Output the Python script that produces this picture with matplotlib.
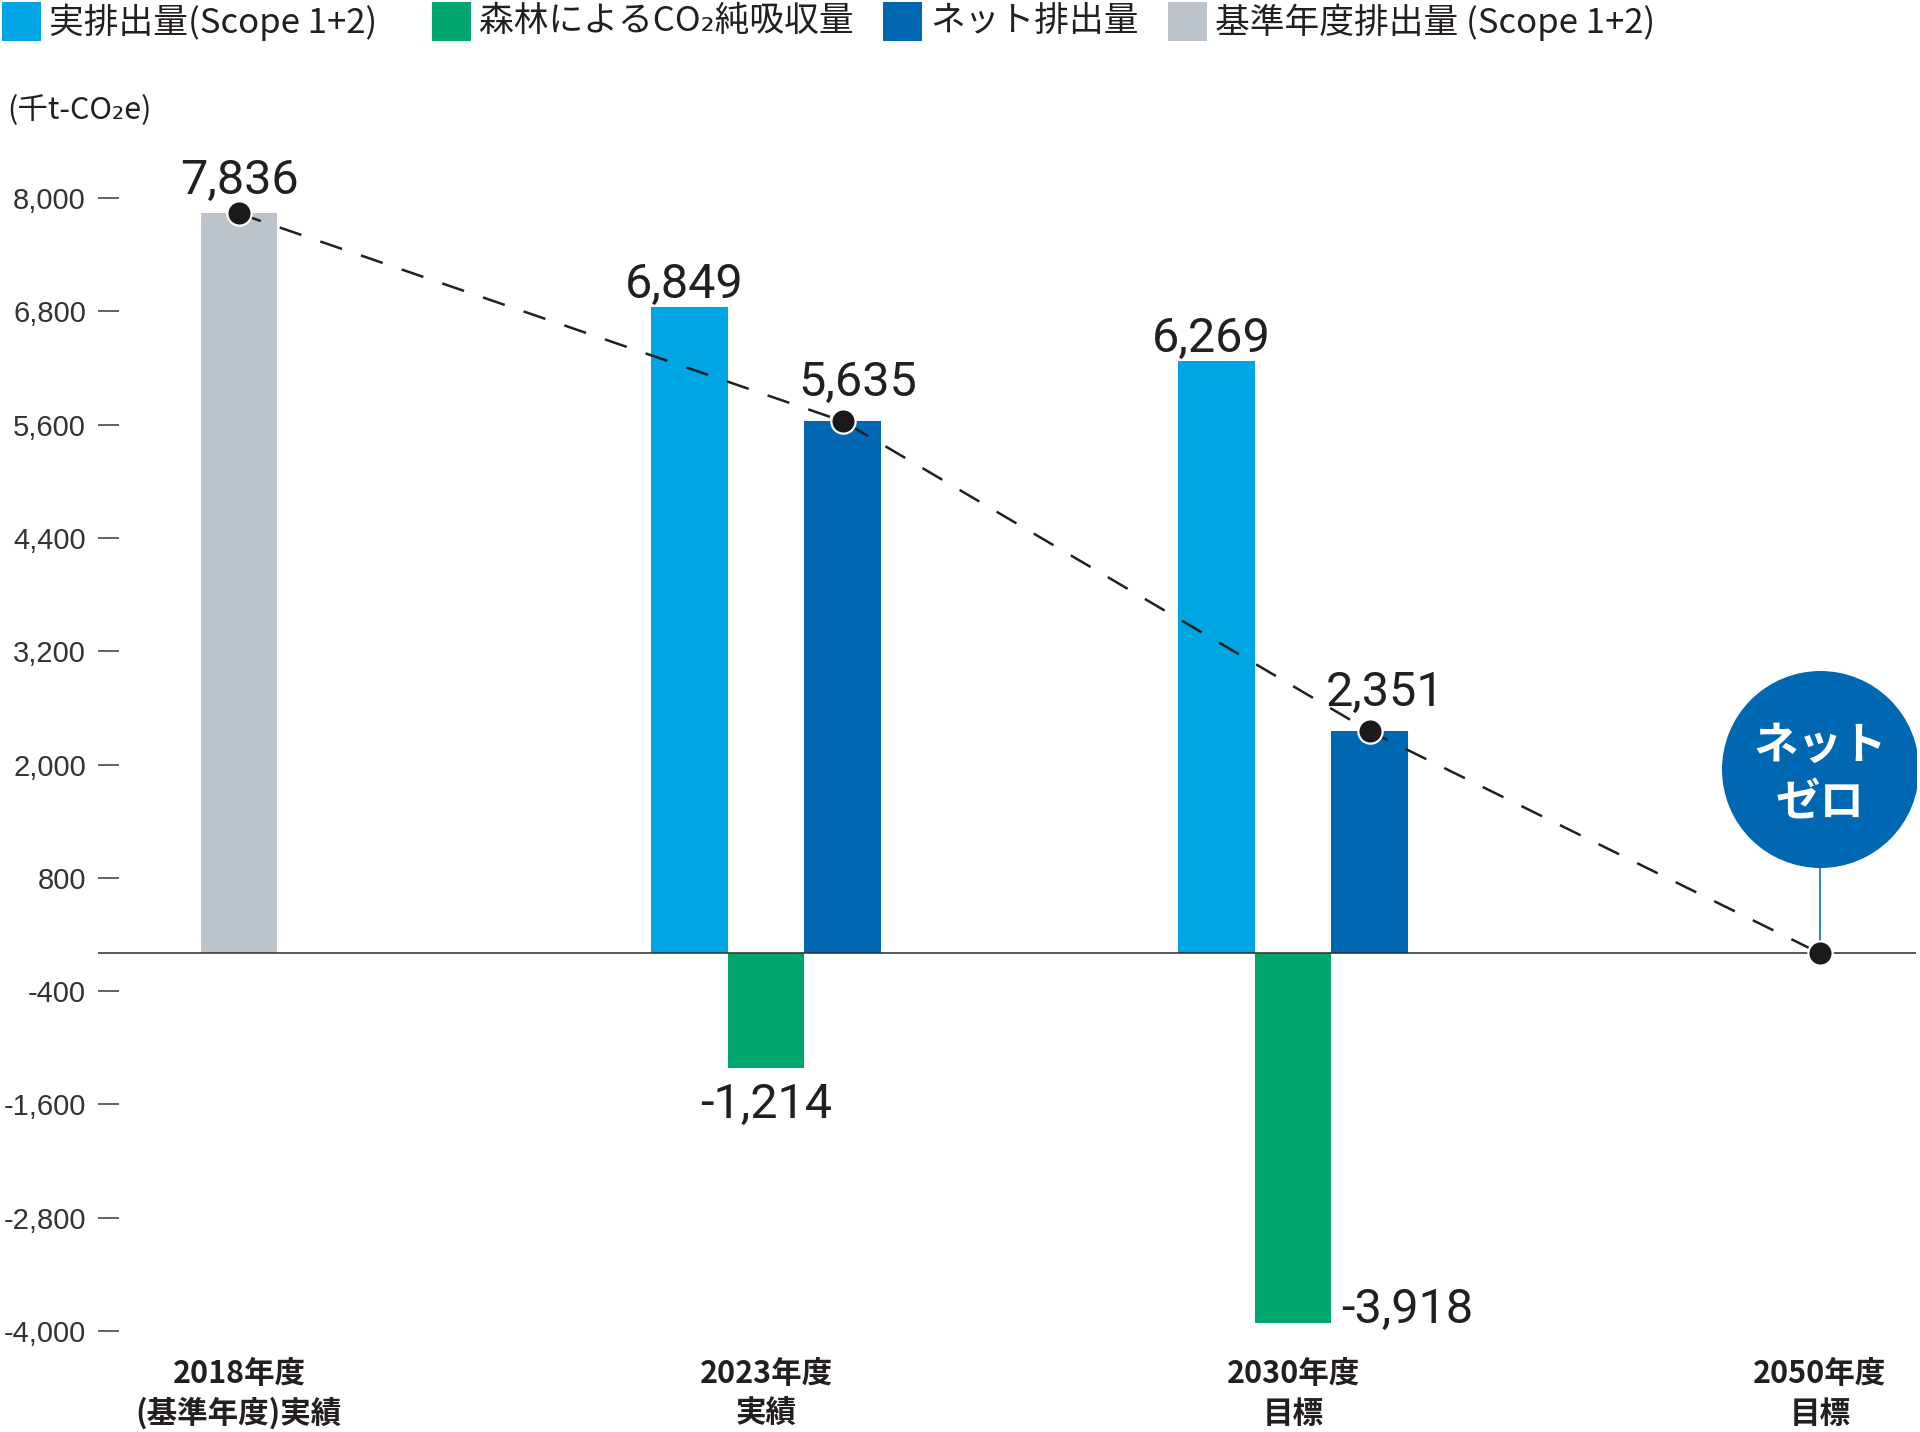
import numpy as np
import matplotlib
matplotlib.use("Agg")
import matplotlib.pyplot as plt
from matplotlib import font_manager as fm
from matplotlib.patches import Rectangle

# ---------------- data ----------------
categories = ["2018年度\n(基準年度)実績", "2023年度\n実績", "2030年度\n目標", "2050年度\n目標"]
base_emission = [7836, np.nan, np.nan, np.nan]      # 基準年度排出量 (Scope 1+2)
actual_emission = [np.nan, 6849, 6269, np.nan]      # 実排出量(Scope 1+2)
forest_absorption = [np.nan, -1214, -3918, np.nan]  # 森林によるCO2純吸収量
net_emission = [np.nan, 5635, 2351, 0]              # ネット排出量 (2050: net zero)
trajectory = [7836, 5635, 2351, 0]
yticks = [8000, 6800, 5600, 4400, 3200, 2000, 800, -400, -1600, -2800, -4000]
legend_labels = ["実排出量(Scope 1+2)", "森林によるCO₂純吸収量", "ネット排出量", "基準年度排出量 (Scope 1+2)"]
unit_label = "(千t-CO₂e)"
badge_label = "ネット\nゼロ"

# ---------------- style ----------------
C_ACTUAL = "#00a5e3"
C_FOREST = "#00a66b"
C_NET = "#0068b3"
C_BASE = "#bcc3ca"
C_TEXT = "#231f20"
legend_colors = [C_ACTUAL, C_FOREST, C_NET, C_BASE]


def has_font(name):
    try:
        fm.findfont(fm.FontProperties(family=name), fallback_to_default=False)
        return True
    except Exception:
        return False


NUM_FONT = "Liberation Sans Narrow" if has_font("Liberation Sans Narrow") else "Roboto"
TICK_FONT = "Liberation Sans" if has_font("Liberation Sans") else "DejaVu Sans"
JP = ["Noto Sans CJK JP", "DejaVu Sans"]

plt.rcParams["font.family"] = JP
plt.rcParams["lines.scale_dashes"] = False

W, H, DPI = 1920, 1432, 100
fig = plt.figure(figsize=(W / DPI, H / DPI), dpi=DPI)
PX = 72.0 / DPI  # points per pixel

ax_left, ax_right, ax_top, ax_bottom = 98, 1916, 140, 1331
ax = fig.add_axes([ax_left / W, 1 - ax_bottom / H, (ax_right - ax_left) / W, (ax_bottom - ax_top) / H])

bw = 0.146
x = np.arange(len(categories))

ax.bar(x, base_emission, width=bw, color=C_BASE, zorder=2)
ax.bar(x - bw, actual_emission, width=bw, color=C_ACTUAL, zorder=2)
ax.bar(x, forest_absorption, width=bw, color=C_FOREST, zorder=2)
net_bars = np.array(net_emission[:3] + [np.nan])
ax.bar(x + bw, net_bars, width=bw, color=C_NET, zorder=2)

# trajectory (dashed) and dots
traj_x = [x[0], x[1] + bw, x[2] + bw, x[3]]
ax.plot(traj_x, trajectory, color=C_TEXT, lw=2.5 * PX, dashes=(23 * PX, 20 * PX), zorder=3)
ax.plot(traj_x, trajectory, linestyle="none", marker="o", ms=17.5, mfc="#1a1a1a", mec="white", mew=1.6, zorder=5)

# zero line
ax.axhline(0, color="#333333", lw=1.6 * PX, zorder=4)

# net zero badge
BADGE_Y = 1950
ax.plot([x[3], x[3]], [0, BADGE_Y], color=C_NET, lw=1.6 * PX, zorder=3)
ax.scatter([x[3]], [BADGE_Y], s=(197 * PX) ** 2, color=C_NET, zorder=6, linewidths=0)
ax.annotate(badge_label, (x[3], BADGE_Y), xytext=(0, -5 * PX), textcoords="offset points",
            ha="center", va="center", color="white", fontsize=32, fontweight="bold",
            linespacing=1.3, zorder=7, family=JP)

# value labels
def lab(xv, yv, text, dx, dy, ha, va):
    ax.annotate(text, (xv, yv), xytext=(dx * PX, dy * PX), textcoords="offset points",
                ha=ha, va=va, fontsize=35, color=C_TEXT, family=[NUM_FONT, "DejaVu Sans"],
                zorder=8, annotation_clip=False)

fmt = lambda v: f"{v:,.0f}"
lab(x[0], base_emission[0], fmt(base_emission[0]), 0, 20, "center", "baseline")
for i in (1, 2):
    lab(x[i] - bw, actual_emission[i], fmt(actual_emission[i]), -5, 9, "center", "baseline")
    lab(x[i] + bw, net_emission[i], fmt(net_emission[i]), 15, 25, "center", "baseline")
lab(x[1], forest_absorption[1], fmt(forest_absorption[1]), 0, -14, "center", "top")
lab(x[2] + bw / 2, forest_absorption[2], fmt(forest_absorption[2]), 10, 0, "left", "baseline")

# axes config
px_per_unit = (1331 - 198) / 12000.0
ymin = -4000
ymax = ymin + (ax_bottom - ax_top) / px_per_unit
ax.set_ylim(ymin, ymax)
xl = (ax_left - 239) / 527.0
xr = (ax_right - 239) / 527.0
ax.set_xlim(xl, xr)

ax.set_yticks(yticks)
ax.set_yticklabels([f"{v:,}" for v in yticks], family=TICK_FONT, fontsize=21, color="#333333")
ax.tick_params(axis="y", direction="in", length=21 * PX, width=1.5 * PX, color="#333333", pad=12 * PX)
ax.set_xticks([])
for s in ax.spines.values():
    s.set_visible(False)
ax.patch.set_alpha(0)

# x category labels
for xi, c in zip(x, categories):
    ax.annotate(c, (xi, ymin), xytext=(0, -(1394 - 1331) * PX), textcoords="offset points",
                ha="center", va="center", fontsize=22, fontweight="bold", color=C_TEXT,
                linespacing=1.3, family=JP, annotation_clip=False)

# unit label
fig.text(7 / W, 1 - 111 / H, unit_label, ha="left", va="center", fontsize=22, color=C_TEXT, family=JP)

# legend (manual)
patch_x = [2, 432, 883, 1168]
for px0, col, lbl in zip(patch_x, legend_colors, legend_labels):
    fig.patches.append(Rectangle((px0 / W, 1 - 41 / H), 39 / W, 39 / H, transform=fig.transFigure,
                                 facecolor=col, edgecolor="none"))
    fig.text((px0 + 47) / W, 1 - 22 / H, lbl, ha="left", va="center", fontsize=25, color=C_TEXT, family=JP)

fig.savefig("out.png", dpi=DPI, facecolor="white")
